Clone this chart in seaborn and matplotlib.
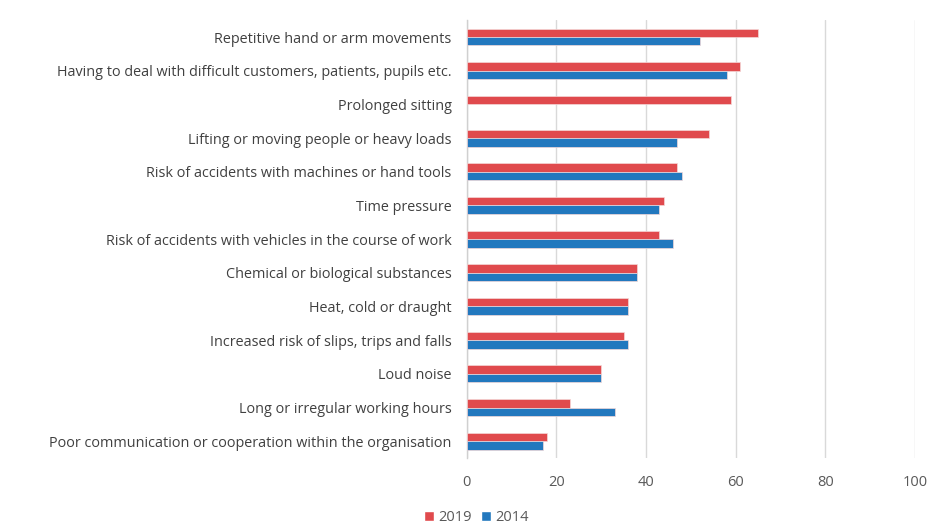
import matplotlib
matplotlib.use("Agg")
import matplotlib.pyplot as plt
import numpy as np
import pandas as pd
import seaborn as sns
from matplotlib.patches import Patch

# Data (% of establishments)
risk_factors = [
    "Repetitive hand or arm movements",
    "Having to deal with difficult customers, patients, pupils etc.",
    "Prolonged sitting",
    "Lifting or moving people or heavy loads",
    "Risk of accidents with machines or hand tools",
    "Time pressure",
    "Risk of accidents with vehicles in the course of work",
    "Chemical or biological substances",
    "Heat, cold or draught",
    "Increased risk of slips, trips and falls",
    "Loud noise",
    "Long or irregular working hours",
    "Poor communication or cooperation within the organisation",
]
values_2019 = [65, 61, 59, 54, 47, 44, 43, 38, 36, 35, 30, 23, 18]
values_2014 = [52, 58, np.nan, 47, 48, 43, 46, 38, 36, 36, 30, 33, 17]
years = ["2019", "2014"]
palette = {"2019": "#E04A4D", "2014": "#2278BE"}

df = pd.DataFrame({
    "factor": risk_factors * 2,
    "year": ["2019"] * len(risk_factors) + ["2014"] * len(risk_factors),
    "value": values_2019 + values_2014,
})

sns.set_theme(style="white")
plt.rcParams["font.family"] = ["Open Sans", "DejaVu Sans"]

fig = plt.figure(figsize=(9.45, 5.32), dpi=100)
ax = fig.add_axes([0.494, 0.139, 0.474, 0.823])

sns.barplot(
    data=df, y="factor", x="value", hue="year",
    order=risk_factors, hue_order=years, palette=palette, saturation=1,
    orient="h", width=0.5, edgecolor="#f4d8d8", linewidth=0.5,
    errorbar=None, legend=False, ax=ax, zorder=3,
)

ax.set_xlim(0, 100)
ax.set_xticks([0, 20, 40, 60, 80, 100])
ax.set_ylim(len(risk_factors) - 0.5, -0.5)
ax.xaxis.grid(True, color="#d9d9d9", linewidth=1, zorder=0)
ax.set_xlabel("")
ax.set_ylabel("")
for side in ["top", "right", "bottom"]:
    ax.spines[side].set_visible(False)
ax.spines["left"].set_color("#d0d0d0")
ax.spines["left"].set_linewidth(1)
ax.tick_params(axis="y", length=0, pad=11, labelsize=10.4, labelcolor="#404040")
ax.tick_params(axis="x", length=0, pad=12, labelsize=10.5, labelcolor="#595959")

handles = [Patch(facecolor=palette[y], label=y) for y in years]
fig.legend(
    handles=handles, loc="center", bbox_to_anchor=(0.504, 0.027), ncol=2,
    frameon=False, fontsize=10.5, handlelength=0.7, handleheight=0.7,
    handletextpad=0.3, columnspacing=0.6, labelcolor="#595959",
)

fig.savefig("out.png", dpi=100)
